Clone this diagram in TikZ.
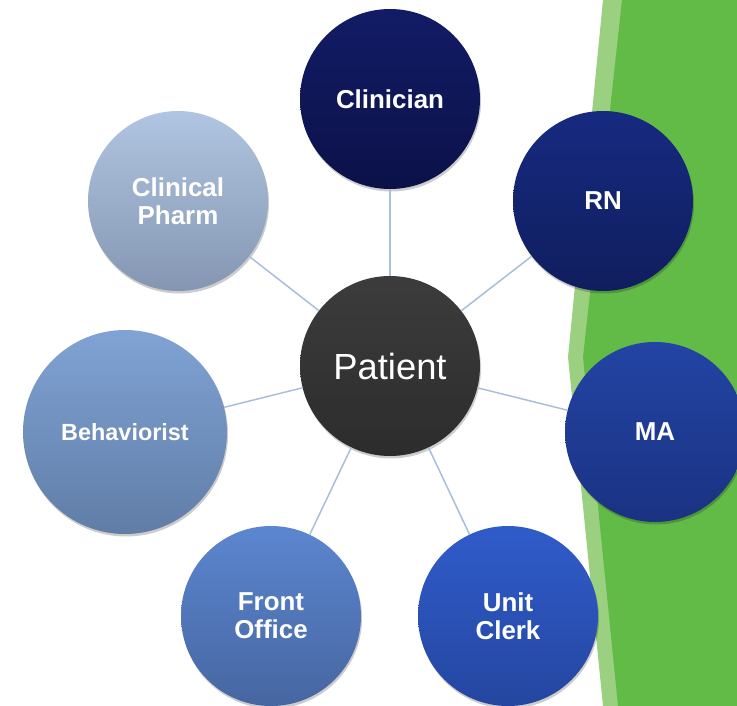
\documentclass[tikz,border=0pt]{standalone}
\usepackage{fontspec}
\setmainfont{Liberation Sans}
\usetikzlibrary{shadows}
\definecolor{greendark}{HTML}{62BB46}
\definecolor{greenlight}{HTML}{9CD081}
\definecolor{linkblue}{HTML}{A9BED9}
\begin{document}
\begin{tikzpicture}[x=1bp,y=-1bp,
  member/.style={circle, minimum size=180bp, inner sep=0pt, text=white,
    font=\bfseries\fontsize{26}{28}\selectfont, align=center,
    drop shadow={shadow xshift=1bp, shadow yshift=-2.5bp, opacity=0.2, fill=black}},
  link/.style={draw=linkblue, line width=1.5bp}]
\useasboundingbox (0,0) rectangle (737,706);
\clip (0,0) rectangle (737,706);
% green background band
\fill[greenlight] (603,0) -- (568,357) -- (603,706) -- (737,706) -- (737,0) -- cycle;
\fill[greendark] (622,0) -- (583,357) -- (618,706) -- (737,706) -- (737,0) -- cycle;
% nodes
\node[member, top color={rgb,255:red,60;green,60;blue,60}, bottom color={rgb,255:red,44;green,44;blue,44},
  font=\fontsize{36.5}{40}\selectfont] (patient) at (390,366) {Patient};
\node[member, top color={rgb,255:red,18;green,28;blue,102}, bottom color={rgb,255:red,11;green,17;blue,72}] (clin) at (390,99) {Clinician};
\node[member, top color={rgb,255:red,22;green,42;blue,128}, bottom color={rgb,255:red,16;green,30;blue,94}] (rn) at (603,201) {RN};
\node[member, top color={rgb,255:red,35;green,68;blue,164}, bottom color={rgb,255:red,26;green,50;blue,130}] (ma) at (655,432) {MA};
\node[member, top color={rgb,255:red,48;green,92;blue,202}, bottom color={rgb,255:red,36;green,70;blue,160}] (clerk) at (508,616) {Unit\\Clerk};
\node[member, top color={rgb,255:red,92;green,134;blue,208}, bottom color={rgb,255:red,70;green,102;blue,160}] (front) at (271,616) {Front\\Office};
\node[member, minimum size=204bp, font=\bfseries\fontsize{23.5}{26}\selectfont,
  top color={rgb,255:red,128;green,163;blue,213}, bottom color={rgb,255:red,96;green,125;blue,166}] (behav) at (125,432) {Behaviorist};
\node[member, top color={rgb,255:red,176;green,197;blue,225}, bottom color={rgb,255:red,132;green,150;blue,178}] (pharm) at (178,201) {Clinical\\Pharm};
% connectors
\draw[link] (patient) -- (clin);
\draw[link] (patient) -- (rn);
\draw[link] (patient) -- (ma);
\draw[link] (patient) -- (clerk);
\draw[link] (patient) -- (front);
\draw[link] (patient) -- (behav);
\draw[link] (patient) -- (pharm);
\end{tikzpicture}
\end{document}
